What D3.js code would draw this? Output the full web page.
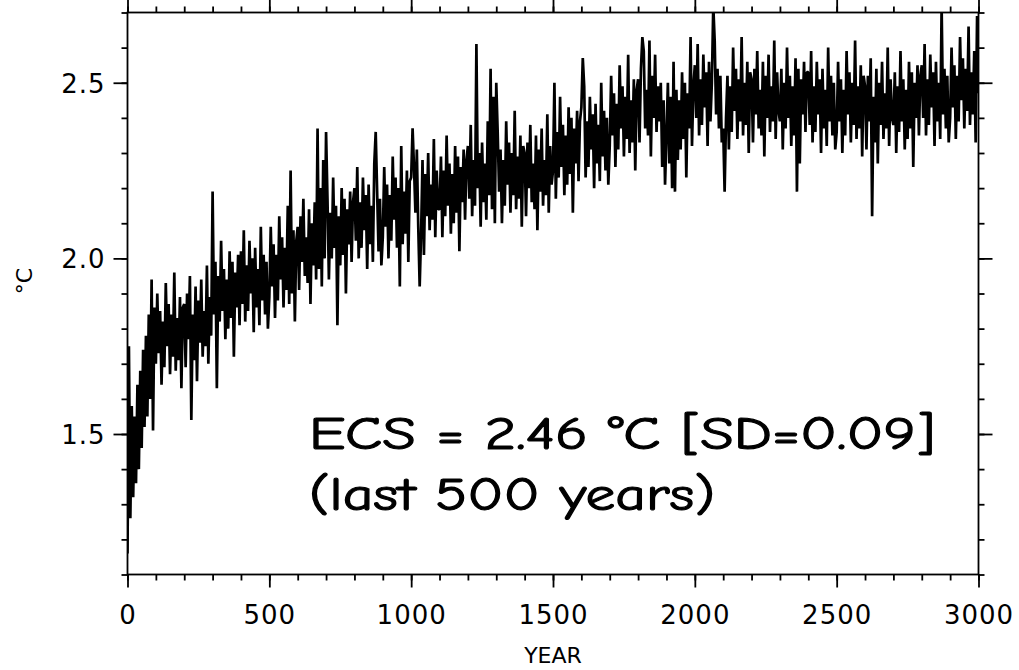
<!DOCTYPE html>
<html>
<head>
<meta charset="utf-8">
<script src="https://cdn.jsdelivr.net/npm/d3@7"></script>
<style>
body{margin:0;background:#fff;}
svg{display:block;}
</style>
</head>
<body>
<script>
// model year of the first value and spacing between values (years)
var firstYear = 0;
var yearStep = 5;

// global mean surface temperature change (deg C), one row per century
var tempChange = [
  1.16,1.75,1.26,1.58,1.32,1.55,1.36,1.64,1.40,1.68,1.46,1.74,1.52,1.78,1.55,1.84,1.60,1.94,1.51,1.86,
  1.70,1.90,1.73,1.85,1.64,1.82,1.69,1.93,1.75,1.87,1.67,1.84,1.72,1.96,1.68,1.83,1.71,1.89,1.63,1.86,
  1.87,1.69,1.90,1.77,1.95,1.54,1.84,1.71,1.92,1.65,1.88,1.76,1.94,1.72,1.85,1.75,1.98,1.70,1.89,1.78,
  2.19,1.84,1.99,1.63,1.95,1.82,2.05,1.85,1.97,1.77,1.94,1.80,2.02,1.83,1.99,1.72,1.96,1.86,2.01,1.81,
  2.02,1.87,2.08,1.82,1.98,1.85,2.05,1.90,2.00,1.79,2.03,1.86,1.97,1.81,2.09,1.88,2.01,1.84,1.99,1.80,
  1.89,2.09,1.92,2.04,1.83,2.01,1.88,2.12,1.94,2.06,1.86,2.03,1.91,2.15,1.87,2.25,1.90,2.08,1.82,2.05,
  2.09,1.91,2.12,1.99,2.17,1.95,2.06,1.93,2.14,1.87,2.10,1.98,2.16,1.94,2.37,1.97,2.20,1.92,2.28,2.00,
  2.36,2.17,1.94,2.13,2.00,2.23,2.03,2.15,1.81,2.12,1.98,2.20,2.01,2.17,1.90,2.14,2.04,2.19,1.99,2.16,
  2.20,2.05,2.26,2.00,2.16,2.03,2.23,2.08,2.18,1.97,2.21,2.04,2.15,1.99,2.27,2.36,2.19,2.02,2.17,1.98,
  2.06,2.26,2.09,2.21,2.00,2.18,2.05,2.29,2.11,2.23,2.03,2.20,1.92,2.32,2.04,2.19,2.07,2.25,1.99,2.22,
  2.23,2.37,2.26,2.13,2.31,2.09,1.92,2.07,2.28,2.01,2.24,2.12,2.30,2.08,2.21,2.11,2.34,2.06,2.25,2.14,
  2.14,2.29,2.06,2.25,2.12,2.35,2.15,2.27,2.07,2.24,2.10,2.32,2.13,2.29,2.02,2.26,2.16,2.31,2.11,2.28,
  2.32,2.17,2.38,2.12,2.28,2.15,2.61,2.20,2.30,2.09,2.33,2.16,2.27,2.11,2.39,2.18,2.54,2.14,2.46,2.10,
  2.50,2.36,2.19,2.31,2.10,2.28,2.15,2.39,2.21,2.33,2.13,2.30,2.18,2.42,2.14,2.29,2.17,2.35,2.09,2.32,
  2.30,2.12,2.33,2.20,2.38,2.16,2.27,2.14,2.35,2.08,2.31,2.19,2.37,2.15,2.28,2.18,2.41,2.13,2.32,2.21,
  2.25,2.50,2.17,2.36,2.23,2.46,2.26,2.38,2.18,2.35,2.21,2.43,2.24,2.40,2.13,2.37,2.27,2.42,2.22,2.39,
  2.43,2.57,2.49,2.23,2.39,2.26,2.46,2.31,2.41,2.20,2.44,2.27,2.38,2.22,2.50,2.29,2.42,2.25,2.40,2.21,
  2.32,2.52,2.35,2.47,2.26,2.44,2.31,2.55,2.37,2.49,2.29,2.46,2.34,2.58,2.30,2.45,2.33,2.51,2.25,2.48,
  2.51,2.33,2.54,2.63,2.59,2.37,2.48,2.35,2.62,2.29,2.52,2.40,2.58,2.36,2.49,2.39,2.50,2.26,2.45,2.21,
  2.35,2.50,2.27,2.46,2.20,2.56,2.19,2.48,2.28,2.45,2.31,2.53,2.34,2.50,2.23,2.47,2.37,2.63,2.32,2.49,
  2.55,2.40,2.61,2.35,2.51,2.38,2.58,2.43,2.53,2.32,2.56,2.39,2.50,2.72,2.62,2.41,2.54,2.37,2.52,2.33,
  2.37,2.19,2.40,2.52,2.31,2.49,2.36,2.60,2.42,2.54,2.34,2.51,2.39,2.63,2.35,2.50,2.38,2.56,2.30,2.53,
  2.51,2.33,2.54,2.41,2.59,2.37,2.48,2.35,2.56,2.29,2.52,2.40,2.58,2.36,2.49,2.39,2.62,2.34,2.53,2.42,
  2.39,2.54,2.31,2.50,2.37,2.60,2.40,2.52,2.32,2.49,2.35,2.57,2.19,2.54,2.27,2.51,2.41,2.56,2.36,2.53,
  2.53,2.38,2.59,2.33,2.49,2.36,2.56,2.41,2.51,2.30,2.54,2.37,2.48,2.32,2.60,2.39,2.52,2.35,2.50,2.31,
  2.36,2.56,2.39,2.51,2.30,2.48,2.35,2.59,2.41,2.53,2.33,2.50,2.38,2.62,2.34,2.49,2.37,2.55,2.29,2.52,
  2.49,2.31,2.52,2.39,2.57,2.12,2.46,2.33,2.54,2.27,2.50,2.38,2.56,2.34,2.47,2.37,2.60,2.32,2.51,2.40,
  2.38,2.53,2.30,2.49,2.36,2.59,2.39,2.51,2.31,2.48,2.34,2.56,2.37,2.53,2.26,2.50,2.40,2.55,2.35,2.52,
  2.55,2.40,2.61,2.35,2.51,2.38,2.58,2.43,2.53,2.32,2.56,2.39,2.50,2.34,2.72,2.41,2.54,2.37,2.52,2.33,
  2.40,2.60,2.43,2.55,2.34,2.52,2.39,2.63,2.45,2.57,2.37,2.54,2.42,2.66,2.38,2.53,2.41,2.59,2.33,2.69,
  2.47
];

// axis ticks
var xMajorTicks = [0,500,1000,1500,2000,2500,3000];
var xMinorTicks = d3.range(0,3001,100);
var yMajorTicks = [1.5,2.0,2.5];
var yMinorTicks = d3.range(11,28).map(function(d){ return d/10; });

var xDomain = [0,3000];
var yDomain = [1.1,2.7];

var xTitle = "YEAR";
var yTitle = "\u00B0C";
var noteLine1 = "ECS = 2.46 \u00B0C [SD=0.09]";
var noteLine2 = "(last 500 years)";

var W = 1019, H = 670;
var plot = {left:127.5, right:978.5, top:12.5, bottom:574.5};

var svg = d3.select("body").append("svg").attr("width",W).attr("height",H);
svg.append("rect").attr("width",W).attr("height",H).attr("fill","#fff");

var x = d3.scaleLinear().domain(xDomain).range([plot.left,plot.right]);
var y = d3.scaleLinear().domain(yDomain).range([plot.bottom,plot.top]);

var labelFont = "'DejaVu Sans', sans-serif";

//minor ticks first so major ones sit on top
function addAxis(axis, tx, ty, vals, size, labels){
  var g = svg.append("g").attr("transform","translate("+tx+","+ty+")")
    .call(axis.tickValues(vals).tickSize(size).tickSizeOuter(0).tickPadding(8)
      .tickFormat(labels ? labels : ""));
  g.select(".domain").remove();
  g.selectAll(".tick line").attr("stroke","#000").attr("stroke-width",1.8);
  g.selectAll("text").attr("fill","#000").style("font-family",labelFont)
    .style("font-size","26px").style("letter-spacing","1px");
  return g;
}

addAxis(d3.axisBottom(x), 0, plot.bottom, xMinorTicks, 6);
addAxis(d3.axisTop(x), 0, plot.top, xMinorTicks, 6);
addAxis(d3.axisLeft(y), plot.left, 0, yMinorTicks, 6);
addAxis(d3.axisRight(y), plot.right, 0, yMinorTicks, 6);

var xb = addAxis(d3.axisBottom(x), 0, plot.bottom, xMajorTicks, 13, d3.format("d"));
xb.selectAll("text").attr("y",49).attr("dy",0);
addAxis(d3.axisTop(x), 0, plot.top, xMajorTicks, 13);
var yl = addAxis(d3.axisLeft(y), plot.left, 0, yMajorTicks, 14, d3.format(".1f"));
yl.selectAll("text").attr("dy","0.36em");
addAxis(d3.axisRight(y), plot.right, 0, yMajorTicks, 14);

// frame
svg.append("rect")
  .attr("x",plot.left).attr("y",plot.top)
  .attr("width",plot.right-plot.left).attr("height",plot.bottom-plot.top)
  .attr("fill","none").attr("stroke","#000").attr("stroke-width",1.8);

// data line
svg.append("clipPath").attr("id","clip").append("rect")
  .attr("x",plot.left).attr("y",plot.top)
  .attr("width",plot.right-plot.left).attr("height",plot.bottom-plot.top);

var line = d3.line()
  .x(function(d,i){ return x(firstYear + i*yearStep); })
  .y(function(d){ return y(d); });

svg.append("path")
  .datum(tempChange)
  .attr("clip-path","url(#clip)")
  .attr("d",line)
  .attr("fill","none")
  .attr("stroke","#000")
  .attr("stroke-width",2.7)
  .attr("stroke-linejoin","bevel");

// axis titles
svg.append("text")
  .attr("x",(plot.left+plot.right)/2).attr("y",663)
  .attr("text-anchor","middle")
  .style("font-family",labelFont).style("font-size","22px")
  .text(xTitle);

svg.append("text")
  .attr("transform","translate(32,281) rotate(-90)")
  .attr("text-anchor","middle")
  .style("font-family",labelFont).style("font-size","22px")
  .text(yTitle);

// annotation
var noteFont = "'Comic Sans MS','Comic Neue','Noto Sans',sans-serif";
svg.append("text")
  .attr("x",309).attr("y",449)
  .attr("textLength",626).attr("lengthAdjust","spacingAndGlyphs")
  .attr("stroke","#000").attr("stroke-width",1.1)
  .style("font-family",noteFont).style("font-size","46px")
  .text(noteLine1);
svg.append("text")
  .attr("x",309).attr("y",510)
  .attr("textLength",406).attr("lengthAdjust","spacingAndGlyphs")
  .attr("stroke","#000").attr("stroke-width",1.1)
  .style("font-family",noteFont).style("font-size","46px")
  .text(noteLine2);
</script>
</body>
</html>
